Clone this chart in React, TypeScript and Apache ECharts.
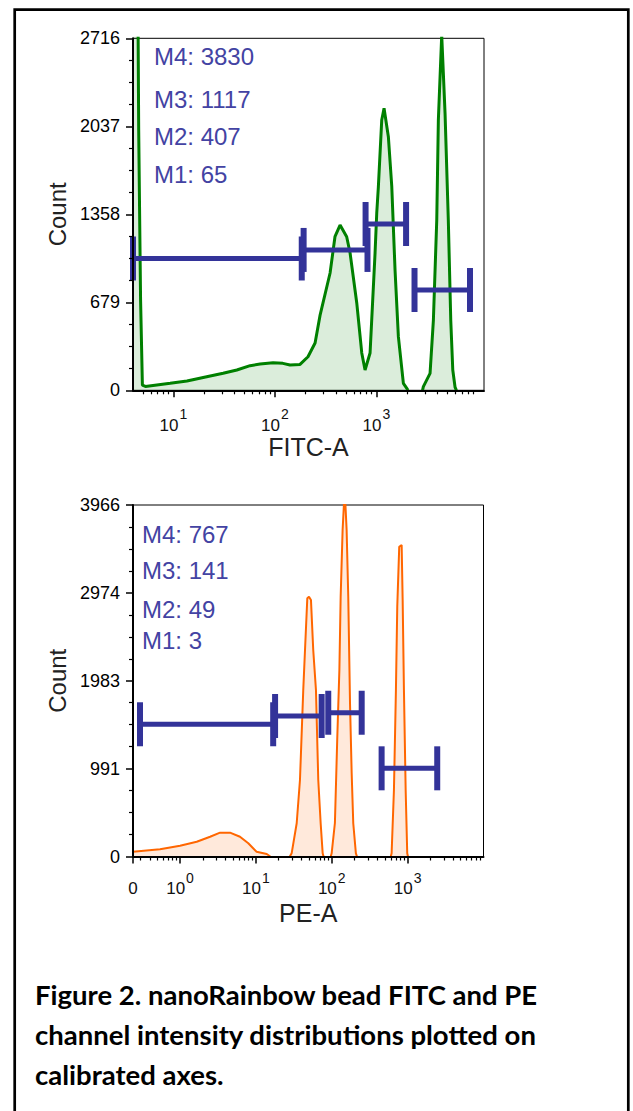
import React, { useEffect, useRef } from 'react';
import * as echarts from 'echarts';

// ---------- data ----------
// FITC-A histogram: calibrated intensity (x) and event count (y); null = empty gap
const fitcX = [4.0, 4.45, 4.55, 4.75, 4.95, 5.3, 9.3, 13.6, 21.3, 30.9, 42.2, 57, 71.5, 96, 120, 141, 177, 212, 249, 279, 350, 391, 439, 510, 551, 641, 718, 774, 867, 971, 1009, 1047, 1130, 1191, 1313, 1419, 1528, 1648, 1846, 1995, 2050, 2400, 2850, 2905, 3382, 3648, 3937, 4083, 4406, 4753, 5117, 5408, 5663, 5960, 6150];
const fitcCount = [3300, 3300, 2020, 700, 40, 30, 54, 72, 105, 131, 157, 190, 203, 213, 208, 195, 200, 259, 365, 580, 905, 1185, 1275, 1185, 1059, 674, 288, 157, 288, 1059, 1368, 1571, 2086, 2176, 1957, 1571, 928, 414, 54, 15, 0, null, 0, 28, 131, 542, 1314, 2086, 2740, 2137, 1314, 542, 157, 25, 0];

// PE-A histogram
const peX = [0.24, 0.545, 1.0, 1.66, 2.49, 3.37, 4.56, 6.17, 7.94, 10.2, 13.9, 15.5, 22, 28, 29.6, 34.5, 38.1, 42.1, 44.4, 47.6, 50.1, 53.2, 57, 61.9, 66.4, 71.4, 75.9, 78, 88, 97, 99.7, 110, 118, 126, 131, 139, 145, 151, 157, 165, 174, 183, 192, 208, 215, 400, 600, 615, 660, 701, 730, 775, 834, 860, 894, 942, 988, 1010];
const peCount = [54, 81, 122, 167, 223, 269, 269, 223, 149, 54, 28, 0, null, 0, 36, 375, 863, 1879, 2330, 2913, 2930, 2894, 2330, 1879, 863, 375, 36, 0, null, 0, 36, 378, 1314, 2104, 2931, 3684, 3990, 3990, 3684, 2931, 1728, 939, 375, 36, 0, null, 0, 36, 750, 1879, 2818, 3495, 3515, 2894, 1879, 750, 36, 0];

// marker gates M1..M4: low bound, high bound, drawn at count level
const fitcGateLo = [4.0, 192, 783, 2377];
const fitcGateHi = [184, 818, 1963, 8375];
const fitcGateY = [1017, 1083, 1283, 774];
const peGateLo = [0.297, 17.9, 89.9, 454];
const peGateHi = [16.9, 73.6, 248, 2455];
const peGateY = [1492, 1585, 1622, 995];

const fitcMarkerText = ['M4: 3830', 'M3: 1117', 'M2: 407', 'M1: 65'];
const peMarkerText = ['M4: 767', 'M3: 141', 'M2: 49', 'M1: 3'];

// axes
const fitcRange = [4, 11500];
const peRange = [0.24, 10000];
const fitcCountMax = 2716;
const peCountMax = 3966;
const fitcMajorTicks = [10, 100, 1000];
const fitcMinorTicks = [5, 6, 7, 8, 9, 20, 30, 40, 50, 60, 70, 80, 90, 200, 300, 400, 500, 600, 700, 800, 900, 2000, 3000, 4000, 5000, 6000, 7000, 8000, 9000];
const peMajorTicks = [0.24, 1, 10, 100, 1000];
const peMinorTicks = [0.3, 0.4, 0.5, 0.6, 0.7, 0.8, 0.9, 2, 3, 4, 5, 6, 7, 8, 9, 20, 30, 40, 50, 60, 70, 80, 90, 200, 300, 400, 500, 600, 700, 800, 900, 2000, 3000, 4000, 5000, 6000, 7000, 8000, 9000];

const captionLines = [
  'Figure 2. nanoRainbow bead FITC and PE',
  'channel intensity distributions plotted on',
  'calibrated axes.',
];

// ---------- styling ----------
const FONT = '"Liberation Sans", Arial, sans-serif';
const NAVY = '#333399';
const LABEL_BLUE = '#4343a3';

function histData(xs: number[], ys: (number | null)[]) {
  return xs.map((x, i) => [x, ys[i] === null ? '-' : ys[i]]);
}

function gateData(lo: number[], hi: number[], y: number[]) {
  return lo.map((l, i) => [l, hi[i], y[i]]);
}

const renderGate = (params: any, api: any) => {
  const lo = api.value(0);
  const hi = api.value(1);
  const yv = api.value(2);
  const p1 = api.coord([lo, yv]);
  const p2 = api.coord([hi, yv]);
  const style = { fill: NAVY };
  const capH = 44;
  const capW = 6;
  return {
    type: 'group',
    children: [
      { type: 'rect', shape: { x: p1[0], y: p1[1] - 2.5, width: p2[0] - p1[0], height: 5 }, style },
      { type: 'rect', shape: { x: p1[0] - capW / 2, y: p1[1] - capH / 2, width: capW, height: capH }, style },
      { type: 'rect', shape: { x: p2[0] - capW / 2, y: p2[1] - capH / 2, width: capW, height: capH }, style },
    ],
  };
};

const tickLabelRich = {
  b: { fontSize: 17, fontFamily: FONT, color: '#111', lineHeight: 36 },
  s: { fontSize: 14, fontFamily: FONT, color: '#111', padding: [0, 0, 22, 1] },
};

const decadeFormatter = (v: number) =>
  v < 0.5 ? '{b|0}' : `{b|10}{s|${Math.round(Math.log10(v))}}`;

function xAxes(gridIndex: number, range: number[], major: number[], minor: number[], name: string, labelMargin: number) {
  return [
    {
      gridIndex,
      type: 'log',
      logBase: 10,
      position: 'bottom',
      min: range[0],
      max: range[1],
      z: 4,
      axisLine: { show: true, lineStyle: { color: '#000', width: 2 } },
      axisTick: { show: true, customValues: major, length: 7, lineStyle: { color: '#000', width: 1.5 } },
      axisLabel: { show: true, customValues: major, formatter: decadeFormatter, rich: tickLabelRich, margin: labelMargin },
      splitLine: { show: false },
      minorTick: { show: false },
      name,
      nameLocation: 'middle',
      nameGap: 44,
      nameTextStyle: { fontSize: 25, fontFamily: FONT, color: '#222' },
    },
    {
      gridIndex,
      type: 'log',
      logBase: 10,
      position: 'bottom',
      offset: 0,
      min: range[0],
      max: range[1],
      z: 4,
      axisLine: { show: false },
      axisTick: { show: true, customValues: minor, length: 4, lineStyle: { color: '#000', width: 1.2 } },
      axisLabel: { show: false },
      splitLine: { show: false },
    },
  ];
}

function yAxis(gridIndex: number, max: number) {
  return {
    gridIndex,
    type: 'value',
    min: 0,
    max,
    interval: max / 4,
    z: 4,
    axisLine: { show: true, lineStyle: { color: '#000', width: 2 } },
    axisTick: { show: true, length: 7, lineStyle: { color: '#000', width: 1.5 } },
    minorTick: { show: true, splitNumber: 4, length: 4, lineStyle: { color: '#000', width: 1.2 } },
    axisLabel: { fontSize: 18, fontFamily: FONT, color: '#000', margin: 13, formatter: (v: number) => String(Math.floor(v)) },
    splitLine: { show: false },
    minorSplitLine: { show: false },
    name: 'Count',
    nameLocation: 'middle',
    nameRotate: 90,
    nameGap: 62,
    nameTextStyle: { fontSize: 24, fontFamily: FONT, color: '#222' },
  };
}

function markerTexts(lines: string[], x: number, ys: number[]) {
  return lines.map((t, i) => ({
    type: 'text',
    x,
    y: ys[i],
    style: { text: t, fontSize: 24, fontFamily: FONT, fill: LABEL_BLUE, textAlign: 'left', textVerticalAlign: 'middle' },
  }));
}

export default function App() {
  const ref = useRef<HTMLDivElement>(null);
  useEffect(() => {
    if (!ref.current) return;
    const chart = echarts.init(ref.current, undefined, { renderer: 'svg' });
    const option: any = {
      animation: false,
      backgroundColor: '#fff',
      grid: [
        { left: 133, top: 38.3, width: 351, height: 352, show: true, borderColor: '#000', borderWidth: 1 },
        { left: 133, top: 505, width: 350.5, height: 351.5, show: true, borderColor: '#000', borderWidth: 1 },
      ],
      xAxis: [
        ...xAxes(0, fitcRange, fitcMajorTicks, fitcMinorTicks, 'FITC-A', 17),
        ...xAxes(1, peRange, peMajorTicks, peMinorTicks, 'PE-A', 14),
      ],
      yAxis: [yAxis(0, fitcCountMax), yAxis(1, peCountMax)],
      series: [
        {
          type: 'line',
          xAxisIndex: 0,
          yAxisIndex: 0,
          data: histData(fitcX, fitcCount),
          showSymbol: false,
          connectNulls: false,
          lineStyle: { color: '#008000', width: 3 },
          itemStyle: { color: '#008000' },
          areaStyle: { color: 'rgba(0,128,0,0.2)' },
          z: 2,
        },
        {
          type: 'custom',
          xAxisIndex: 0,
          yAxisIndex: 0,
          data: gateData(fitcGateLo, fitcGateHi, fitcGateY),
          encode: { x: [0, 1], y: 2 },
          renderItem: renderGate,
          clip: false,
          z: 3,
        },
        {
          type: 'line',
          xAxisIndex: 2,
          yAxisIndex: 1,
          data: histData(peX, peCount),
          showSymbol: false,
          connectNulls: false,
          lineStyle: { color: '#ff6600', width: 2 },
          itemStyle: { color: '#ff6600' },
          areaStyle: { color: 'rgba(255,102,0,0.2)' },
          z: 2,
        },
        {
          type: 'custom',
          xAxisIndex: 2,
          yAxisIndex: 1,
          data: gateData(peGateLo, peGateHi, peGateY),
          encode: { x: [0, 1], y: 2 },
          renderItem: renderGate,
          clip: false,
          z: 3,
        },
      ],
      graphic: [
        {
          type: 'rect',
          shape: { x: 14.7, y: 9.7, width: 613.6, height: 1200 },
          style: { fill: 'none', stroke: '#000', lineWidth: 2.7 },
          silent: true,
        },
        ...markerTexts(fitcMarkerText, 154, [56, 99, 136, 174]),
        ...markerTexts(peMarkerText, 142, [534, 570.5, 609.7, 640.8]),
        ...captionLines.map((t, i) => ({
          type: 'text',
          x: 35,
          y: 994 + i * 40,
          style: { text: t, fontSize: 27.5, fontWeight: 'bold', fontFamily: 'Lato, "Open Sans", sans-serif', fill: '#000', textAlign: 'left', textVerticalAlign: 'middle' },
        })),
      ],
    };
    chart.setOption(option);
    return () => chart.dispose();
  }, []);
  return (
    <div
      ref={ref}
      style={{ position: 'fixed', left: 0, top: 0, width: 633, height: 1111, background: '#fff' }}
    />
  );
}
